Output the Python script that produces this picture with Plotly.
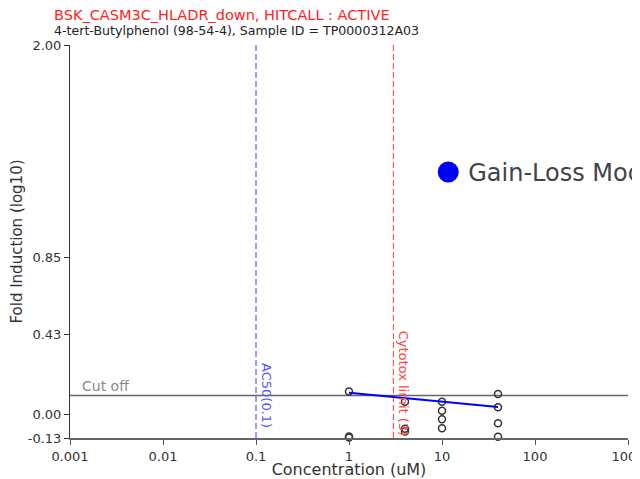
import math
import plotly.graph_objects as go

# ---- data ----
conc_points = [1, 1, 1, 4, 4, 4, 10, 10, 10, 10, 40, 40, 40, 40]
resp_points = [0.122, -0.122, -0.127, 0.067, -0.080, -0.095,
               0.067, 0.018, -0.028, -0.077,
               0.109, 0.037, -0.050, -0.123]
fit_conc = [1, 40]
fit_resp = [0.115, 0.038]
cutoff = 0.1
ac50 = 0.1
cytotox = 3
x_ticks = [0.001, 0.01, 0.1, 1, 10, 100, 1000]
x_ticklabels = ["0.001", "0.01", "0.1", "1", "10", "100", "1000"]
y_ticks = [-0.13, 0.0, 0.43, 0.85, 2.00]
y_ticklabels = ["-0.13", "0.00", "0.43", "0.85", "2.00"]
y_min, y_max = -0.13, 2.00
x_min, x_max = 0.001, 1000

title_text = "BSK_CASM3C_HLADR_down, HITCALL : ACTIVE"
subtitle_text = "4-tert-Butylphenol (98-54-4), Sample ID = TP0000312A03"

FONT = "DejaVu Sans, Liberation Sans, Arial, sans-serif"

fig = go.Figure()

# cutoff line
fig.add_trace(go.Scatter(x=[x_min, x_max], y=[cutoff, cutoff], mode="lines",
                         line=dict(color="#666666", width=1.5), showlegend=False,
                         hoverinfo="skip"))
# AC50 line
fig.add_trace(go.Scatter(x=[ac50, ac50], y=[y_min, y_max], mode="lines",
                         line=dict(color="#3b3bff", width=1, dash="6px,3px"), showlegend=False,
                         hoverinfo="skip"))
# Cytotox line
fig.add_trace(go.Scatter(x=[cytotox, cytotox], y=[y_min, y_max], mode="lines",
                         line=dict(color="#ff3b3b", width=1, dash="6px,3px"), showlegend=False,
                         hoverinfo="skip"))
# data points
fig.add_trace(go.Scatter(x=conc_points, y=resp_points, mode="markers",
                         marker=dict(symbol="circle-open", size=7, color="#333333",
                                     line=dict(width=1.5, color="#333333")),
                         showlegend=False, cliponaxis=False))
# model fit line
fig.add_trace(go.Scatter(x=fit_conc, y=fit_resp, mode="lines",
                         line=dict(color="#0000ff", width=2), showlegend=False))
# legend entry
fig.add_trace(go.Scatter(x=[None], y=[None], mode="markers", name="Gain-Loss Model",
                         marker=dict(color="#0000ff", size=16,
                                     line=dict(color="#0000ff", width=5))))

fig.update_layout(
    width=632, height=471,
    paper_bgcolor="white", plot_bgcolor="white",
    margin=dict(l=62, r=12, t=37, b=41, autoexpand=False),
    font=dict(family=FONT, color="#444444", size=13),
    showlegend=True,
    legend=dict(x=0.642, y=0.733, xanchor="left", yanchor="top",
                font=dict(size=24, color="#444444", family=FONT),
                bgcolor="rgba(0,0,0,0)", itemsizing="trace"),
    xaxis=dict(type="log", range=[math.log10(x_min), math.log10(x_max)],
               tickvals=x_ticks, ticktext=x_ticklabels, ticks="outside",
               ticklen=5, tickcolor="#555555", showline=True, linecolor="#666666",
               linewidth=2, showgrid=False, zeroline=False,
               ticklabeloverflow="allow",
               tickfont=dict(size=13, color="#333333", family=FONT),
               title=dict(text="Concentration (uM)", font=dict(size=16, color="#333333", family=FONT),
                          standoff=0)),
    yaxis=dict(range=[y_min, y_max], tickvals=y_ticks, ticktext=y_ticklabels,
               ticks="outside", ticklen=5, tickcolor="#333333", showline=True,
               linecolor="#333333", linewidth=1, showgrid=False, zeroline=False,
               tickfont=dict(size=13, color="#333333", family=FONT),
               title=dict(text="Fold Induction (log10)", font=dict(size=15, color="#333333", family=FONT),
                          standoff=4)),
)

annotations = [
    dict(text=title_text, xref="paper", yref="paper", x=0.0, y=1.0,
         xshift=-18, yshift=30, xanchor="left", yanchor="middle", showarrow=False,
         font=dict(size=14.5, color="#ff2222", family=FONT)),
    dict(text=subtitle_text, xref="paper", yref="paper", x=0.0, y=1.0,
         xshift=-18, yshift=15, xanchor="left", yanchor="middle", showarrow=False,
         font=dict(size=12.6, color="#222222", family=FONT)),
    dict(text="Cut off", xref="x", yref="y", x=math.log10(x_min), y=cutoff,
         xanchor="left", yanchor="bottom", xshift=10, yshift=0, showarrow=False,
         font=dict(size=14, color="#888888", family=FONT)),
    dict(text="AC50(0.1)", xref="x", yref="y", x=math.log10(ac50), y=0.10,
         xanchor="left", yanchor="middle", textangle=90, xshift=1, showarrow=False,
         font=dict(size=13, color="#5555ff", family=FONT)),
    dict(text="Cytotox limit (3)", xref="x", yref="y", x=math.log10(cytotox), y=0.165,
         xanchor="left", yanchor="middle", textangle=90, xshift=1, showarrow=False,
         font=dict(size=13, color="#ff4444", family=FONT)),
]
fig.update_layout(annotations=annotations)

fig.write_html("out.html")
